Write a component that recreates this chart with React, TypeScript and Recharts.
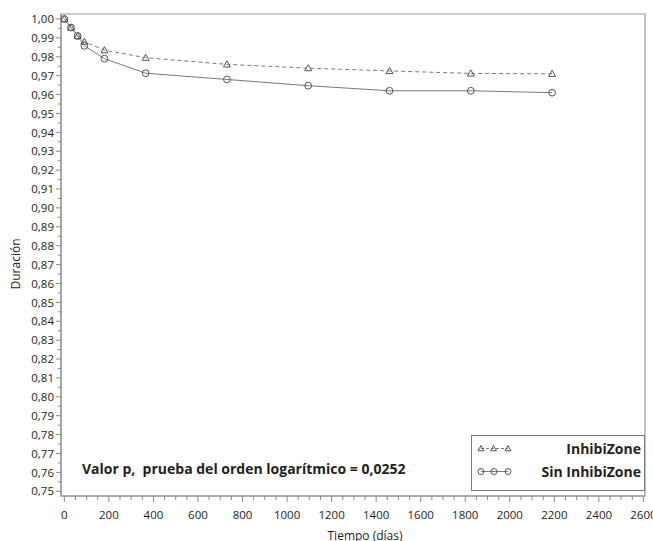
import React from 'react';
import { ComposedChart, Line, XAxis, YAxis, ReferenceArea, Legend, Customized } from 'recharts';

const days = [0, 30, 60, 90, 180, 365, 730, 1095, 1460, 1825, 2190];
const inhibiZone = [1.0, 0.9955, 0.991, 0.988, 0.9835, 0.9795, 0.976, 0.974, 0.9725, 0.9712, 0.971];
const sinInhibiZone = [1.0, 0.9955, 0.991, 0.9858, 0.979, 0.9713, 0.968, 0.9647, 0.962, 0.962, 0.961];

const seriesNames = ['InhibiZone', 'Sin InhibiZone'];
const xTickLabels = [0, 200, 400, 600, 800, 1000, 1200, 1400, 1600, 1800, 2000, 2200, 2400, 2600];
const yTickLabels = [0.75, 0.76, 0.77, 0.78, 0.79, 0.8, 0.81, 0.82, 0.83, 0.84, 0.85, 0.86, 0.87, 0.88, 0.89, 0.9, 0.91, 0.92, 0.93, 0.94, 0.95, 0.96, 0.97, 0.98, 0.99, 1.0];
const annotation = 'Valor p,  prueba del orden logarítmico = 0,0252';
const xLabel = 'Tiempo (días)';
const yLabel = 'Duración';

// minor ticks: halfway (y) and quarter (x) between labelled ticks
const xTicks: number[] = [];
xTickLabels.forEach((t, i) => {
  xTicks.push(t);
  if (i < xTickLabels.length - 1) {
    xTicks.push(t + 50, t + 100, t + 150);
  }
});
const yTicks: number[] = [];
yTickLabels.forEach((t, i) => {
  yTicks.push(t);
  if (i < yTickLabels.length - 1) yTicks.push(Math.round((t + 0.005) * 1000) / 1000);
});

const data = days.map((d, i) => ({ day: d, a: inhibiZone[i], b: sinInhibiZone[i] }));

const FONT = '"Open Sans", sans-serif';
const TEXT = '#231f20';
const AXIS = '#8a8a8a';
const LINE = '#7a7a7a';
const MARK = '#555555';

const XTick = (props: any) => {
  const { x, y, payload } = props;
  const v = payload.value;
  const major = xTickLabels.includes(v);
  return (
    <g>
      <line x1={x} x2={x} y1={y} y2={y + (major ? 6 : 4)} stroke={AXIS} strokeWidth={1} />
      {major && (
        <text x={x} y={y + 22.5} textAnchor="middle" fontSize={11.5} fontFamily={FONT} fill={TEXT}>
          {String(v)}
        </text>
      )}
    </g>
  );
};

const YTick = (props: any) => {
  const { x, y, payload } = props;
  const v = payload.value;
  const major = Math.round(v * 1000) % 10 === 0;
  return (
    <g>
      <line x1={x} x2={x - (major ? 5 : 3)} y1={y} y2={y} stroke={AXIS} strokeWidth={1} />
      {major && (
        <text x={x - 7} y={y + 4.2} textAnchor="end" fontSize={11.5} fontFamily={FONT} fill={TEXT}>
          {v.toFixed(2).replace('.', ',')}
        </text>
      )}
    </g>
  );
};

const Tri = ({ cx, cy, s = 3.5 }: any) => (
  <polygon
    points={`${cx},${cy - s} ${cx - s},${cy + s * 0.75} ${cx + s},${cy + s * 0.75}`}
    fill="none"
    stroke={MARK}
    strokeWidth={1}
  />
);

const Circ = ({ cx, cy, r = 3.4 }: any) => (
  <circle cx={cx} cy={cy} r={r} fill="none" stroke={MARK} strokeWidth={1} />
);

const LegendContent = () => (
  <div style={{ width: 174, height: 56, border: '1.5px solid #7a7a7a', boxSizing: 'border-box', background: '#fff' }}>
    <svg width={171} height={53} style={{ display: 'block' }}>
      <line x1={9} x2={36} y1={12.5} y2={12.5} stroke={LINE} strokeDasharray="3 2" />
      <Tri cx={9} cy={12.5} s={3} />
      <Tri cx={21.5} cy={12.5} s={3} />
      <Tri cx={36} cy={12.5} s={3} />
      <text x={169} y={17.5} textAnchor="end" fontSize={14} fontWeight="bold" fontFamily={FONT} fill={TEXT}>
        {seriesNames[0]}
      </text>
      <line x1={9} x2={36} y1={35.5} y2={35.5} stroke={LINE} />
      <Circ cx={9} cy={35.5} r={3} />
      <Circ cx={22} cy={35.5} r={3} />
      <Circ cx={36} cy={35.5} r={3} />
      <text x={169} y={40.5} textAnchor="end" fontSize={14} fontWeight="bold" fontFamily={FONT} fill={TEXT}>
        {seriesNames[1]}
      </text>
    </svg>
  </div>
);

const Texts = () => (
  <g>
    <text x={82} y={474} fontSize={14} fontWeight="bold" fontFamily={FONT} fill={TEXT} style={{ whiteSpace: 'pre' }}>
      {annotation}
    </text>
    <text x={365} y={539.5} textAnchor="middle" fontSize={12} fontFamily={FONT} fill={TEXT}>
      {xLabel}
    </text>
    <text x={20} y={264} textAnchor="middle" fontSize={12} fontFamily={FONT} fill={TEXT} transform="rotate(-90 20 264)">
      {yLabel}
    </text>
  </g>
);

export default function App() {
  return (
    <div style={{ position: 'absolute', left: 0, top: 0, width: 653, height: 541, background: '#fff' }}>
      <ComposedChart width={653} height={541} data={data} margin={{ top: 14, right: 8, bottom: 0, left: 0 }}>
        <XAxis
          type="number"
          dataKey="day"
          domain={[-15, 2607]}
          ticks={xTicks}
          interval={0}
          allowDataOverflow
          height={45}
          tickSize={0}
          tickMargin={0}
          tickLine={false}
          axisLine={{ stroke: AXIS }}
          tick={<XTick />}
        />
        <YAxis
          type="number"
          domain={[0.7475, 1.00265]}
          ticks={yTicks}
          interval={0}
          allowDataOverflow
          width={61}
          tickSize={0}
          tickMargin={0}
          tickLine={false}
          axisLine={{ stroke: AXIS }}
          tick={<YTick />}
        />
        <ReferenceArea x1={-15} x2={2607} y1={0.7475} y2={1.00265} fill="none" stroke="#9a9a9a" strokeWidth={1.2} ifOverflow="visible" />
        <Line
          type="linear"
          dataKey="a"
          name={seriesNames[0]}
          stroke={LINE}
          strokeDasharray="4 3"
          strokeWidth={1}
          isAnimationActive={false}
          dot={(p: any) => <Tri key={`t${p.index}`} cx={p.cx} cy={p.cy} />}
        />
        <Line
          type="linear"
          dataKey="b"
          name={seriesNames[1]}
          stroke={LINE}
          strokeWidth={1}
          isAnimationActive={false}
          dot={(p: any) => <Circ key={`c${p.index}`} cx={p.cx} cy={p.cy} />}
        />
        <Legend
          layout="horizontal"
          verticalAlign="middle"
          align="center"
          content={<LegendContent />}
          wrapperStyle={{ position: 'absolute', left: 471, top: 435, width: 174, height: 56 }}
        />
        <Customized component={<Texts />} />
      </ComposedChart>
    </div>
  );
}
